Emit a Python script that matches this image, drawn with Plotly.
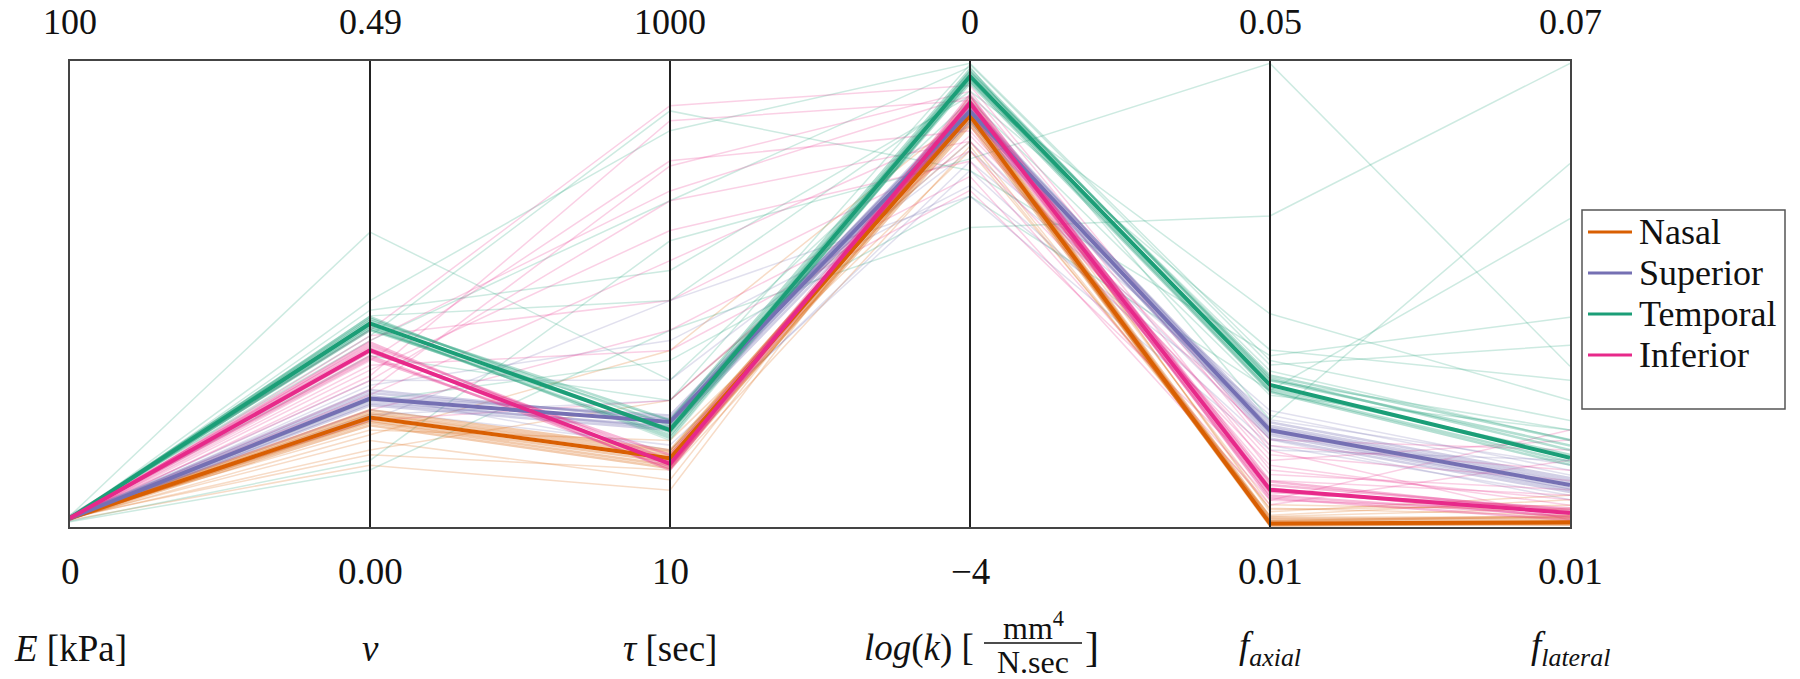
import plotly.graph_objects as go

# ---------------- axes ----------------
axis_titles = ["<i>E</i> [kPa]", "<i>ν</i>", "<i>τ</i> [sec]", "LOGK",
               "<i>f</i><sub><i>axial</i></sub>", "<i>f</i><sub><i>lateral</i></sub>"]
axis_min = [0, 0.0, 10, -4, 0.01, 0.01]
axis_max = [100, 0.49, 1000, 0, 0.05, 0.07]
top_labels = ["100", "0.49", "1000", "0", "0.05", "0.07"]
bottom_labels = ["0", "0.00", "10", "\u22124", "0.01", "0.01"]

regions = ["Nasal", "Superior", "Temporal", "Inferior"]
region_rgb = {"Nasal": (217, 95, 2), "Superior": (117, 112, 179),
              "Temporal": (27, 158, 119), "Inferior": (231, 41, 138)}

# each run: [E, nu, tau, log(k), f_axial, f_lateral]
nasal_best = [1.9, 0.115, 156, -0.47, 0.0103, 0.0106]
nasal_band = [
    [2.1, 0.120, 169, -0.44, 0.0106, 0.0109],
    [1.7, 0.112, 148, -0.52, 0.0102, 0.0104],
    [1.9, 0.118, 163, -0.43, 0.0108, 0.0112],
    [1.9, 0.110, 141, -0.55, 0.0103, 0.0103],
    [2.1, 0.123, 173, -0.46, 0.0105, 0.0114],
    [1.7, 0.107, 135, -0.50, 0.0101, 0.0105],
]
nasal_other = [
    [1.9, 0.091, 110, -0.34, 0.0115, 0.0128],
    [2.1, 0.076, 131, -0.73, 0.0110, 0.0135],
    [1.7, 0.097, 385, -0.43, 0.0119, 0.0122],
    [1.5, 0.065, 88, -0.30, 0.0113, 0.0141],
    [2.4, 0.102, 194, -0.77, 0.0116, 0.0115],
    [1.9, 0.081, 279, -0.69, 0.0109, 0.0124],
]

superior_best = [1.9, 0.135, 233, -0.43, 0.0183, 0.0154]
superior_band = [
    [2.1, 0.141, 241, -0.39, 0.0187, 0.0160],
    [1.7, 0.130, 224, -0.47, 0.0179, 0.0148],
    [1.9, 0.137, 247, -0.41, 0.0190, 0.0163],
    [1.9, 0.133, 220, -0.46, 0.0176, 0.0145],
    [2.1, 0.144, 237, -0.37, 0.0185, 0.0157],
    [1.7, 0.128, 216, -0.52, 0.0181, 0.0150],
]
superior_other = [
    [1.9, 0.154, 322, -0.77, 0.0200, 0.0173],
    [2.1, 0.123, 184, -0.94, 0.0170, 0.0141],
    [1.7, 0.149, 406, -1.07, 0.0192, 0.0180],
    [1.5, 0.118, 279, -0.69, 0.0175, 0.0135],
    [2.4, 0.139, 173, -0.86, 0.0196, 0.0167],
    [1.9, 0.112, 491, -1.16, 0.0166, 0.0186],
]

temporal_best = [1.9, 0.214, 216, -0.13, 0.0222, 0.0189]
temporal_band = [
    [2.1, 0.219, 226, -0.09, 0.0228, 0.0199],
    [1.7, 0.209, 205, -0.17, 0.0217, 0.0184],
    [1.9, 0.217, 237, -0.07, 0.0226, 0.0205],
    [1.9, 0.211, 199, -0.15, 0.0219, 0.0193],
    [2.1, 0.207, 220, -0.10, 0.0230, 0.0212],
    [1.7, 0.221, 211, -0.19, 0.0216, 0.0180],
]
temporal_other = [
    [2.4, 0.310, 322, -0.34, 0.0213, 0.0225],
    [1.5, 0.238, 852, -0.02, 0.0243, 0.0237],
    [1.3, 0.070, 618, -0.84, 0.0498, 0.0307],
    [1.1, 0.060, 428, -1.43, 0.0367, 0.0697],
    [2.6, 0.196, 703, -0.05, 0.0192, 0.0568],
    [1.9, 0.222, 491, -0.26, 0.0283, 0.0263],
    [1.7, 0.133, 364, -1.16, 0.0217, 0.0497],
    [2.1, 0.201, 894, -0.94, 0.0247, 0.0370],
    [1.9, 0.180, 279, -0.03, 0.0239, 0.0334],
    [1.5, 0.228, 555, -0.30, 0.0252, 0.0289],
    [1.9, 0.207, 237, -0.13, 0.0234, 0.0212],
    [2.1, 0.212, 194, -0.17, 0.0226, 0.0225],
]

inferior_best = [1.9, 0.186, 144, -0.36, 0.0132, 0.0118]
inferior_band = [
    [2.1, 0.191, 152, -0.32, 0.0136, 0.0122],
    [1.7, 0.180, 135, -0.40, 0.0127, 0.0114],
    [1.9, 0.188, 131, -0.29, 0.0133, 0.0112],
    [1.9, 0.184, 163, -0.43, 0.0130, 0.0124],
    [2.1, 0.177, 148, -0.38, 0.0125, 0.0109],
    [1.7, 0.194, 139, -0.34, 0.0139, 0.0119],
]
inferior_other = [
    [2.4, 0.207, 905, -0.21, 0.0170, 0.0173],
    [1.5, 0.175, 788, -0.60, 0.0157, 0.0212],
    [1.9, 0.196, 724, -0.30, 0.0149, 0.0135],
    [2.1, 0.154, 703, -0.69, 0.0162, 0.0160],
    [1.7, 0.165, 640, -0.86, 0.0123, 0.0225],
    [1.9, 0.139, 576, -0.56, 0.0145, 0.0148],
    [1.3, 0.201, 491, -0.77, 0.0153, 0.0128],
    [2.4, 0.123, 428, -0.99, 0.0119, 0.0186],
    [1.9, 0.144, 777, -0.26, 0.0166, 0.0109],
    [1.7, 0.170, 385, -1.11, 0.0140, 0.0141],
    [2.1, 0.112, 279, -0.64, 0.0175, 0.0199],
    [1.5, 0.159, 873, -0.34, 0.0123, 0.0122],
]

best = {"Nasal": nasal_best, "Superior": superior_best,
        "Temporal": temporal_best, "Inferior": inferior_best}
band = {"Nasal": nasal_band, "Superior": superior_band,
        "Temporal": temporal_band, "Inferior": inferior_band}
other = {"Nasal": nasal_other, "Superior": superior_other,
         "Temporal": temporal_other, "Inferior": inferior_other}

FONT = "Liberation Serif, Times New Roman, serif"
TXT = "#111"
xs = list(range(len(axis_min)))

# plot area in page pixels: x 70..1570, y 61..527
PX_LEFT, PX_W, PX_BOTTOM, PX_H = 70, 1500, 527, 466


def xpaper(px):
    return (px - PX_LEFT) / PX_W


def ypaper(py):
    return (PX_BOTTOM - py) / PX_H


def norm(row):
    return [(v - lo) / (hi - lo) for v, lo, hi in zip(row, axis_min, axis_max)]


def rgba(name, a):
    r, g, b = region_rgb[name]
    return f"rgba({r},{g},{b},{a})"


fig = go.Figure()

# faint scattered runs
for name in regions:
    for run in other[name]:
        fig.add_trace(go.Scatter(x=xs, y=norm(run), mode="lines",
                                 line=dict(color=rgba(name, 0.22), width=1.5),
                                 showlegend=False, hoverinfo="skip"))
# dense band runs
for name in regions:
    for run in band[name]:
        fig.add_trace(go.Scatter(x=xs, y=norm(run), mode="lines",
                                 line=dict(color=rgba(name, 0.33), width=2.5),
                                 showlegend=False, hoverinfo="skip"))
# best runs
for name in regions:
    fig.add_trace(go.Scatter(x=xs, y=norm(best[name]), mode="lines",
                             line=dict(color=rgba(name, 1.0), width=4),
                             name=name, showlegend=False, hoverinfo="skip"))

# interior vertical axes
for i in xs[1:-1]:
    fig.add_shape(type="line", x0=i, x1=i, y0=0, y1=1, xref="x", yref="y",
                  line=dict(color="#222", width=2), layer="above")

annotations = []
for i in xs:
    annotations.append(dict(x=i, y=ypaper(0), xref="x", yref="paper", text=top_labels[i],
                            showarrow=False, xanchor="center", yanchor="top",
                            font=dict(family=FONT, size=36, color=TXT)))
    annotations.append(dict(x=i, y=ypaper(571), xref="x", yref="paper", text=bottom_labels[i],
                            showarrow=False, xanchor="center", yanchor="middle",
                            font=dict(family=FONT, size=37, color=TXT)))
    if axis_titles[i] != "LOGK":
        annotations.append(dict(x=i, y=ypaper(648), xref="x", yref="paper", text=axis_titles[i],
                                showarrow=False, xanchor="center", yanchor="middle",
                                font=dict(family=FONT, size=37, color=TXT)))

# log(k) [ mm^4 / N.sec ] title with stacked fraction
annotations.append(dict(x=xpaper(976), y=ypaper(648), xref="paper", yref="paper",
                        text="<i>log</i>(<i>k</i>) [", showarrow=False,
                        xanchor="right", yanchor="middle",
                        font=dict(family=FONT, size=37, color=TXT)))
annotations.append(dict(x=xpaper(1033), y=ypaper(626), xref="paper", yref="paper",
                        text="mm<sup>4</sup>", showarrow=False,
                        xanchor="center", yanchor="middle",
                        font=dict(family=FONT, size=32, color=TXT)))
annotations.append(dict(x=xpaper(1033), y=ypaper(662), xref="paper", yref="paper",
                        text="N.sec", showarrow=False,
                        xanchor="center", yanchor="middle",
                        font=dict(family=FONT, size=32, color=TXT)))
annotations.append(dict(x=xpaper(1092), y=ypaper(647), xref="paper", yref="paper",
                        text="]", showarrow=False,
                        xanchor="center", yanchor="middle",
                        font=dict(family=FONT, size=42, color=TXT)))
fig.add_shape(type="line", x0=xpaper(984), x1=xpaper(1082), y0=ypaper(643), y1=ypaper(643),
              xref="paper", yref="paper", line=dict(color=TXT, width=1.5))

# legend box drawn by hand (matplotlib-like compact layout)
fig.add_shape(type="rect", x0=xpaper(1582), x1=xpaper(1785), y0=ypaper(409), y1=ypaper(210),
              xref="paper", yref="paper", line=dict(color="#555", width=1.5),
              fillcolor="white", layer="above")
legend_rows_y = [232, 273, 314, 355]
for name, py in zip(regions, legend_rows_y):
    fig.add_shape(type="line", x0=xpaper(1588), x1=xpaper(1632), y0=ypaper(py), y1=ypaper(py),
                  xref="paper", yref="paper", line=dict(color=rgba(name, 1.0), width=3),
                  layer="above")
    annotations.append(dict(x=xpaper(1637), y=ypaper(py), xref="paper", yref="paper",
                            text=name, showarrow=False, xanchor="left", yanchor="middle",
                            font=dict(family=FONT, size=36, color=TXT)))

fig.update_layout(
    width=1800, height=679,
    margin=dict(l=70, r=230, t=61, b=152, pad=0),
    paper_bgcolor="white", plot_bgcolor="white",
    xaxis=dict(range=[0, 5], showgrid=False, zeroline=False, showticklabels=False,
               ticks="", showline=True, mirror=True, linecolor="#444", linewidth=2,
               fixedrange=True),
    yaxis=dict(range=[0, 1], showgrid=False, zeroline=False, showticklabels=False,
               ticks="", showline=True, mirror=True, linecolor="#444", linewidth=2,
               fixedrange=True),
    annotations=annotations,
    showlegend=False,
)

fig.write_html("out.html", config={"displayModeBar": False},
               post_script="document.body.style.margin='0px';document.body.style.overflow='hidden';")
